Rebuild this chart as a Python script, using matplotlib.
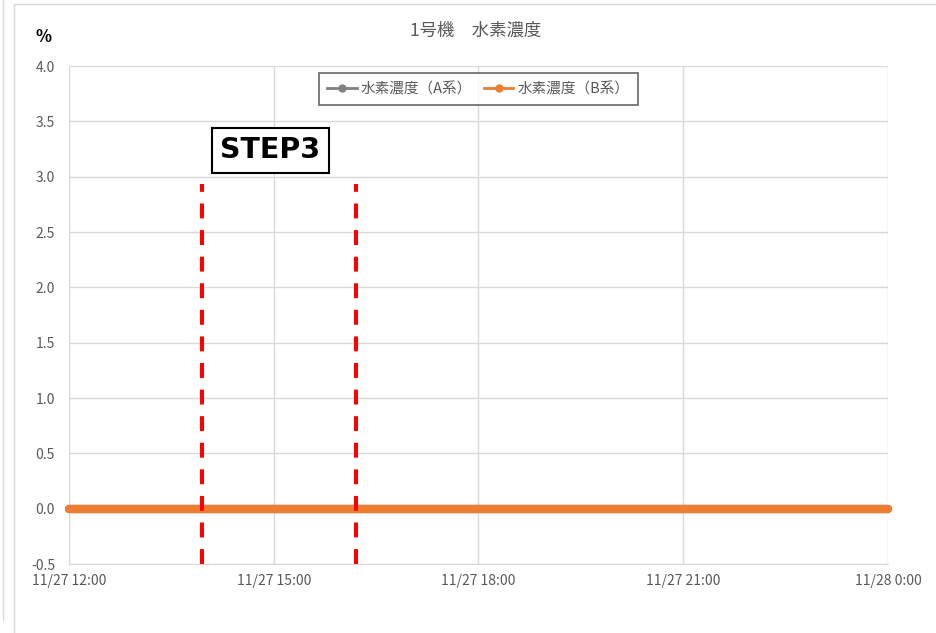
import matplotlib
matplotlib.use("Agg")
import matplotlib.pyplot as plt
from matplotlib.lines import Line2D
from matplotlib.patches import Rectangle
from datetime import datetime

plt.rcParams["font.family"] = ["Noto Sans CJK JP", "DejaVu Sans"]

# --- data ---
times = [datetime(2020, 11, 27, h) for h in range(12, 24)] + [datetime(2020, 11, 28, 0)]
conc_a = [0.0, 0.0, 0.0, 0.0, 0.0, 0.0, 0.0, 0.0, 0.0, 0.0, 0.0, 0.0, 0.0]
conc_b = [0.0, 0.0, 0.0, 0.0, 0.0, 0.0, 0.0, 0.0, 0.0, 0.0, 0.0, 0.0, 0.0]
step_lines = [datetime(2020, 11, 27, 13, 57), datetime(2020, 11, 27, 16, 12)]
step_top = 2.93
x_ticks = [datetime(2020, 11, 27, 12), datetime(2020, 11, 27, 15), datetime(2020, 11, 27, 18),
           datetime(2020, 11, 27, 21), datetime(2020, 11, 28, 0)]
x_labels = ["11/27 12:00", "11/27 15:00", "11/27 18:00", "11/27 21:00", "11/28 0:00"]

GRAY_A = "#808080"
ORANGE = "#ED7D31"
TXT = "#595959"
GRID = "#d9d9d9"

fig = plt.figure(figsize=(9.37, 6.33), dpi=100)
ax = fig.add_axes([0.0736, 0.109, 0.8741, 0.7867])

# chart area frame
fig.add_artist(Rectangle((14 / 937, -0.01), 1.0, 1 - 4 / 633 + 0.01, transform=fig.transFigure,
                         fill=False, edgecolor="#d9d9d9", linewidth=1.0))
fig.add_artist(Line2D([3 / 937, 3 / 937], [1 - 620 / 633, 1.0], transform=fig.transFigure,
                      color="#d9d9d9", linewidth=1.0))

ax.plot(times, conc_a, "-", color=GRAY_A, linewidth=6, solid_capstyle="round",
        zorder=3, clip_on=False)
ax.plot(times, conc_b, "-", color=ORANGE, linewidth=6, solid_capstyle="round",
        zorder=4, clip_on=False)

for t in step_lines:
    ax.plot([t, t], [-0.5, step_top], color="#FF0000", linewidth=2.9,
            linestyle=(0, (3.7, 2.9)), zorder=5)

ax.text(datetime(2020, 11, 27, 14, 57), 3.24, "STEP3", fontsize=20.5, fontweight="bold",
        family="DejaVu Sans", color="black", ha="center", va="center", zorder=6,
        bbox=dict(boxstyle="square,pad=0.3", facecolor="white", edgecolor="black", linewidth=1.5))

ax.set_xlim(x_ticks[0], x_ticks[-1])
ax.set_ylim(-0.5, 4.0)
ax.set_yticks([-0.5, 0.0, 0.5, 1.0, 1.5, 2.0, 2.5, 3.0, 3.5, 4.0])
ax.yaxis.set_major_formatter(plt.FuncFormatter(lambda y, _: f"{y:.1f}"))
ax.set_xticks(x_ticks)
ax.set_xticklabels(x_labels)
ax.tick_params(axis="both", length=0, labelsize=10, colors=TXT)
ax.tick_params(axis="x", pad=7)
ax.tick_params(axis="y", pad=10)
ax.grid(True, color=GRID, linewidth=1.0)
ax.set_axisbelow(True)
for s in ["top", "right"]:
    ax.spines[s].set_visible(False)
for s in ["left", "bottom"]:
    ax.spines[s].set_color(GRID)

handles = [
    Line2D([0], [0], color=GRAY_A, linewidth=2, marker="o", markersize=5),
    Line2D([0], [0], color=ORANGE, linewidth=2, marker="o", markersize=5),
]
leg = ax.legend(handles, ["水素濃度（A系）", "水素濃度（B系）"], loc="upper center",
                bbox_to_anchor=(0.5, 1.0), ncol=2, fontsize=10.5, frameon=True, fancybox=False,
                handlelength=2.0, handletextpad=0.3, columnspacing=0.8, borderpad=0.6)
leg.get_frame().set_edgecolor("#404040")
leg.get_frame().set_linewidth(1.2)
for txt in leg.get_texts():
    txt.set_color(TXT)

fig.text(476 / 937, 1 - 31 / 633, "1号機　水素濃度", fontsize=12.5, color=TXT,
         ha="center", va="center")
fig.text(44 / 937, 1 - 37 / 633, "%", fontsize=12, fontweight="bold", color="black",
         ha="center", va="center")

fig.savefig("out.png", dpi=100)
